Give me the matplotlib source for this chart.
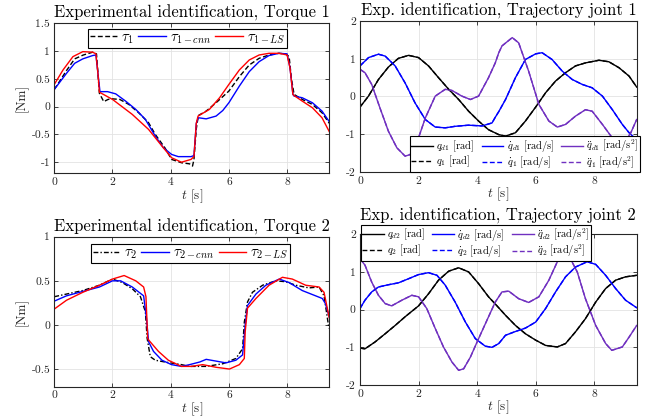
import matplotlib
matplotlib.use("Agg")
import matplotlib.pyplot as plt
from matplotlib.ticker import FuncFormatter

plt.rcParams["font.family"] = ["cmr10", "DejaVu Serif"]
plt.rcParams["mathtext.fontset"] = "cm"
plt.rcParams["axes.unicode_minus"] = False
plt.rcParams["axes.formatter.use_mathtext"] = False

# ---- torque 1 ----
t_tau1 = [0, 0.15, 0.42, 0.7, 1.0, 1.32, 1.45, 1.5, 1.55, 1.7, 1.85, 2.0, 2.25, 2.56,
          2.9, 3.24, 3.47, 3.8, 4.03, 4.37, 4.65, 4.75, 4.8, 4.88, 4.95, 5.22, 5.56,
          6.0, 6.36, 6.7, 7.04, 7.38, 7.72, 7.95, 8.07, 8.15, 8.24, 8.52, 8.87, 9.2, 9.45]
tau1 = [0.31, 0.43, 0.65, 0.86, 0.93, 0.98, 0.95, 0.6, 0.24, 0.09, 0.13, 0.14, 0.13, 0.04,
        -0.11, -0.29, -0.5, -0.74, -0.95, -1.01, -1.03, -1.07, -0.95, -0.4, -0.16, -0.08, 0.07,
        0.28, 0.54, 0.75, 0.87, 0.93, 0.96, 0.95, 0.9, 0.5, 0.22, 0.13, 0.04, -0.11, -0.3]

t_tau1_cnn = [0, 0.42, 0.7, 0.98, 1.32, 1.43, 1.5, 1.57, 1.83, 2.11, 2.45, 2.8, 3.13, 3.47,
              3.75, 4.03, 4.26, 4.7, 4.8, 4.88, 4.95, 5.22, 5.56, 5.79, 6.0, 6.36, 6.7,
              7.04, 7.38, 7.72, 8.0, 8.1, 8.2, 8.24, 8.52, 8.87, 9.2, 9.45]
tau1_cnn = [0.31, 0.6, 0.78, 0.86, 0.92, 0.93, 0.6, 0.27, 0.27, 0.23, 0.1, -0.05, -0.23, -0.53,
            -0.74, -0.86, -0.9, -0.9, -0.88, -0.3, -0.2, -0.22, -0.17, -0.07, 0.07, 0.37, 0.63,
            0.81, 0.92, 0.96, 0.95, 0.7, 0.22, 0.19, 0.16, 0.07, -0.08, -0.27]

t_tau1_ls = [0, 0.3, 0.64, 0.98, 1.32, 1.43, 1.5, 1.55, 2.0, 2.68, 3.24, 3.7, 4.03, 4.37,
             4.7, 4.8, 4.88, 4.94, 5.33, 5.68, 6.0, 6.36, 6.7, 7.04, 7.38, 7.72, 8.0, 8.1,
             8.2, 8.24, 8.52, 8.87, 9.2, 9.45]
tau1_ls = [0.4, 0.66, 0.9, 0.99, 0.98, 0.95, 0.6, 0.26, 0.13, -0.14, -0.41, -0.71, -0.92, -1.0,
           -0.95, -0.9, -0.3, -0.17, -0.05, 0.16, 0.4, 0.66, 0.84, 0.93, 0.96, 0.96, 0.93, 0.7,
           0.22, 0.2, 0.1, -0.02, -0.2, -0.45]

# ---- torque 2 ----
t_tau2 = [0, 0.42, 0.98, 1.55, 2.0, 2.34, 2.68, 2.96, 3.13, 3.19, 3.3, 3.47, 3.8, 4.37, 4.65,
          5.22, 5.79, 6.24, 6.47, 6.53, 6.64, 6.81, 7.16, 7.61, 7.95, 8.3, 8.75, 9.1, 9.27,
          9.42, 9.45]
tau2 = [0.32, 0.35, 0.39, 0.45, 0.52, 0.48, 0.41, 0.32, 0.15, -0.15, -0.36, -0.4, -0.42, -0.45,
        -0.47, -0.47, -0.44, -0.38, -0.27, 0.03, 0.26, 0.37, 0.45, 0.5, 0.49, 0.45, 0.42, 0.43,
        0.33, 0.0, -0.04]

t_tau2_cnn = [0, 0.42, 0.98, 1.55, 2.0, 2.28, 2.68, 3.07, 3.17, 3.24, 3.41, 3.7, 4.03, 4.37,
              4.65, 5.0, 5.22, 5.56, 5.9, 6.24, 6.47, 6.56, 6.64, 6.93, 7.27, 7.73, 8.07,
              8.52, 8.98, 9.21, 9.32, 9.45]
tau2_cnn = [0.27, 0.33, 0.38, 0.43, 0.5, 0.5, 0.43, 0.33, 0.07, -0.19, -0.3, -0.4, -0.45, -0.47,
            -0.45, -0.42, -0.39, -0.41, -0.43, -0.4, -0.34, 0.0, 0.22, 0.35, 0.45, 0.52, 0.48,
            0.39, 0.33, 0.3, 0.24, 0.09]

t_tau2_ls = [0, 0.42, 0.98, 1.55, 2.0, 2.4, 2.8, 3.07, 3.15, 3.21, 3.24, 3.58, 3.92, 4.37,
             4.71, 5.1, 5.56, 6.02, 6.36, 6.53, 6.56, 6.64, 6.93, 7.38, 7.84, 8.18, 8.64,
             9.1, 9.27, 9.45]
tau2_ls = [0.18, 0.28, 0.37, 0.45, 0.52, 0.56, 0.5, 0.43, 0.32, -0.15, -0.17, -0.3, -0.4, -0.47,
           -0.47, -0.45, -0.48, -0.5, -0.45, -0.38, -0.08, 0.19, 0.3, 0.45, 0.54, 0.52, 0.45,
           0.43, 0.37, 0.08]

# ---- trajectory joint 1 ----
t_qd1 = [0, 0.29, 0.63, 0.97, 1.31, 1.66, 2.0, 2.34, 2.68, 3.03, 3.37, 3.71, 4.05, 4.39,
         4.74, 4.97, 5.31, 5.65, 6.0, 6.34, 6.68, 7.02, 7.36, 7.7, 8.16, 8.5, 8.85, 9.19, 9.45]
qd1 = [-0.28, 0.01, 0.45, 0.78, 1.01, 1.09, 1.03, 0.81, 0.5, 0.19, -0.08, -0.39, -0.65, -0.88,
       -1.01, -1.05, -0.96, -0.65, -0.28, 0.1, 0.41, 0.63, 0.81, 0.89, 0.96, 0.92, 0.76, 0.54, 0.25]

t_dqd1 = [0, 0.29, 0.63, 0.86, 1.2, 1.54, 1.88, 2.23, 2.57, 2.91, 3.25, 3.71, 4.17, 4.51,
          4.62, 4.74, 4.97, 5.31, 5.65, 6.0, 6.22, 6.56, 6.91, 7.25, 7.59, 7.93, 8.28, 8.62,
          8.96, 9.19, 9.45]
dqd1 = [0.81, 1.03, 1.12, 1.07, 0.81, 0.36, -0.17, -0.61, -0.81, -0.83, -0.79, -0.76, -0.78, -0.7,
        -0.55, -0.4, -0.08, 0.5, 0.98, 1.13, 1.16, 0.98, 0.67, 0.45, 0.32, 0.23, 0.01, -0.35,
        -0.74, -0.96, -1.15]

t_ddqd1 = [0, 0.17, 0.4, 0.68, 0.97, 1.26, 1.54, 1.71, 1.94, 2.23, 2.57, 2.91, 3.14, 3.48,
           3.77, 4.05, 4.39, 4.62, 4.74, 4.85, 5.2, 5.42, 5.76, 6.11, 6.45, 6.74, 7.02, 7.36,
           7.7, 7.93, 8.28, 8.62, 8.85, 9.02, 9.25, 9.45]
ddqd1 = [0.72, 0.63, 0.32, -0.3, -0.92, -1.36, -1.58, -1.54, -1.23, -0.57, 0.01, 0.19, 0.16, 0.01,
         -0.08, 0.01, 0.5, 0.89, 1.16, 1.34, 1.56, 1.42, 0.67, -0.21, -0.65, -0.81, -0.74, -0.52,
         -0.35, -0.39, -0.74, -1.1, -1.26, -1.23, -0.96, -0.61]

# ---- trajectory joint 2 ----
t_qd2 = [0, 0.17, 0.51, 0.86, 1.2, 1.54, 2.0, 2.34, 2.68, 3.03, 3.37, 3.71, 4.05, 4.39, 4.62,
         4.97, 5.31, 5.65, 6.0, 6.34, 6.74, 7.02, 7.36, 7.7, 8.05, 8.39, 8.73, 9.07, 9.45]
qd2 = [-1.02, -1.04, -0.86, -0.64, -0.42, -0.19, 0.1, 0.42, 0.78, 1.02, 1.11, 1.0, 0.69, 0.34,
       0.15, -0.15, -0.42, -0.64, -0.81, -0.95, -0.99, -0.9, -0.59, -0.24, 0.2, 0.56, 0.78,
       0.87, 0.91]

t_dqd2 = [0, 0.17, 0.4, 0.63, 0.97, 1.31, 1.66, 2.0, 2.34, 2.63, 2.91, 3.25, 3.6, 3.94, 4.28,
          4.51, 4.74, 4.97, 5.31, 5.65, 6.0, 6.34, 6.68, 7.02, 7.36, 7.76, 8.05, 8.39, 8.73,
          9.07, 9.45]
dqd2 = [0.03, 0.25, 0.47, 0.6, 0.66, 0.71, 0.82, 0.93, 0.98, 0.91, 0.65, 0.2, -0.33, -0.77,
        -0.97, -1.0, -0.9, -0.68, -0.58, -0.49, -0.33, 0.03, 0.47, 0.87, 1.13, 1.27, 1.2, 0.91,
        0.56, 0.25, 0.05]

t_ddqd2 = [0, 0.17, 0.4, 0.63, 0.86, 1.08, 1.43, 1.77, 2.0, 2.28, 2.57, 2.85, 3.14, 3.37, 3.54,
           3.77, 4.05, 4.39, 4.62, 4.85, 5.08, 5.42, 5.76, 6.11, 6.45, 6.74, 6.97, 7.14, 7.42,
           7.7, 8.05, 8.39, 8.6, 8.96, 9.19, 9.45]
ddqd2 = [1.35, 1.18, 0.73, 0.38, 0.16, 0.1, 0.25, 0.38, 0.34, 0.03, -0.5, -0.99, -1.39, -1.61,
         -1.57, -1.26, -0.77, -0.19, 0.2, 0.47, 0.49, 0.29, 0.19, 0.34, 0.78, 1.27, 1.46, 1.42,
         1.0, 0.29, -0.42, -0.9, -1.08, -0.99, -0.73, -0.42]

# measured joint signals track the desired ones almost exactly
q1, dq1, ddq1 = qd1, dqd1, ddqd1
q2, dq2, ddq2 = qd2, dqd2, ddqd2

PURPLE = "#7030c0"
AX_COLOR = "#262626"
T_MAX = 9.45


def fmt(v, pos):
    return f"{v:g}"


def style_axes(ax, ylim, yticks):
    ax.set_xlim(0, T_MAX)
    ax.set_ylim(*ylim)
    ax.set_xticks([0, 2, 4, 6, 8])
    ax.set_yticks(yticks)
    ax.yaxis.set_major_formatter(FuncFormatter(fmt))
    ax.xaxis.set_major_formatter(FuncFormatter(fmt))
    ax.grid(True, color="#e3e3e3", linewidth=0.6)
    ax.set_axisbelow(True)
    ax.tick_params(direction="in", top=True, right=True, length=3, width=0.6,
                   labelsize=8.3, colors=AX_COLOR, pad=3)
    for sp in ax.spines.values():
        sp.set_color(AX_COLOR)
        sp.set_linewidth(0.8)
    ax.set_xlabel(r"$t$ [s]", fontsize=9.5, color=AX_COLOR, labelpad=0)


def box_legend(ax, handles, labels, fontsize, **kw):
    leg = ax.legend(handles, labels, fontsize=fontsize, fancybox=False, framealpha=1,
                    edgecolor="black", borderaxespad=0, **kw)
    leg.get_frame().set_linewidth(0.8)
    return leg


fig = plt.figure(figsize=(6.51, 4.2), dpi=100)
ax1 = fig.add_axes([0.0834, 0.5874, 0.4224, 0.3571])
ax2 = fig.add_axes([0.553, 0.5905, 0.425, 0.3595])
ax3 = fig.add_axes([0.0834, 0.0793, 0.4224, 0.3571])
ax4 = fig.add_axes([0.553, 0.0833, 0.425, 0.359])

lw = 1.0

# torque 1
h1, = ax1.plot(t_tau1, tau1, color="black", linestyle="--", dashes=(3.5, 1.8), lw=lw)
h2, = ax1.plot(t_tau1_cnn, tau1_cnn, color="blue", lw=lw)
h3, = ax1.plot(t_tau1_ls, tau1_ls, color="red", lw=lw)
style_axes(ax1, (-1.2, 1.5), [-1, -0.5, 0, 0.5, 1, 1.5])
ax1.set_ylabel("[Nm]", fontsize=9.5, color=AX_COLOR, labelpad=2)
ax1.set_title("Experimental identification, Torque 1", fontsize=12, pad=4)
box_legend(ax1, [h1, h2, h3], [r"$\tau_1$", r"$\tau_{1-cnn}$", r"$\tau_{1-LS}$"], 10.5,
           loc="upper left", bbox_to_anchor=(0.123, 0.962), ncol=3, handlelength=1.9,
           columnspacing=0.3, handletextpad=0.25, borderpad=0.12)

# torque 2
g1, = ax3.plot(t_tau2, tau2, color="black", linestyle="-.", dashes=(3.5, 1.5, 1, 1.5), lw=lw)
g2, = ax3.plot(t_tau2_cnn, tau2_cnn, color="blue", lw=lw)
g3, = ax3.plot(t_tau2_ls, tau2_ls, color="red", lw=lw)
style_axes(ax3, (-0.7, 1.0), [-0.5, 0, 0.5, 1])
ax3.set_ylabel("[Nm]", fontsize=9.5, color=AX_COLOR, labelpad=2)
ax3.set_title("Experimental identification, Torque 2", fontsize=12, pad=4)
box_legend(ax3, [g1, g2, g3], [r"$\tau_2$", r"$\tau_{2-cnn}$", r"$\tau_{2-LS}$"], 10.5,
           loc="upper left", bbox_to_anchor=(0.133, 0.949), ncol=3, handlelength=1.9,
           columnspacing=0.3, handletextpad=0.25, borderpad=0.12)

# trajectories
for ax, j, (tq, q, tdq, dq, tddq, ddq), (mq, mdq, mddq), title in [
    (ax2, 1, (t_qd1, qd1, t_dqd1, dqd1, t_ddqd1, ddqd1), (q1, dq1, ddq1),
     "Exp. identification, Trajectory joint 1"),
    (ax4, 2, (t_qd2, qd2, t_dqd2, dqd2, t_ddqd2, ddqd2), (q2, dq2, ddq2),
     "Exp. identification, Trajectory joint 2"),
]:
    a, = ax.plot(tq, q, color="black", lw=lw)
    b, = ax.plot(tdq, dq, color="blue", lw=lw)
    c, = ax.plot(tddq, ddq, color=PURPLE, lw=lw)
    a2, = ax.plot(tq, mq, color="black", linestyle="--", dashes=(3.5, 1.8), lw=lw)
    b2, = ax.plot(tdq, mdq, color="blue", linestyle="--", dashes=(3.5, 1.8), lw=lw)
    c2, = ax.plot(tddq, mddq, color=PURPLE, linestyle="--", dashes=(3.5, 1.8), lw=lw)
    style_axes(ax, (-2, 2), [-2, -1, 0, 1, 2])
    labels = [rf"$q_{{d{j}}}$ [rad]", rf"$q_{j}$ [rad]",
              rf"$\dot{{q}}_{{d{j}}}$ [rad/s]", rf"$\dot{{q}}_{j}$ [rad/s]",
              rf"$\ddot{{q}}_{{d{j}}}$ [rad/s$^2$]", rf"$\ddot{{q}}_{j}$ [rad/s$^2$]"]
    if j == 1:
        ax.set_title(title, fontsize=12, pad=4)
        pos = dict(loc="lower right", bbox_to_anchor=(1.012, 0.0))
    else:
        # legend pokes out above the frame, so the title sits higher
        ax.set_title(title, fontsize=12, pad=10)
        pos = dict(loc="upper left", bbox_to_anchor=(0.004, 1.062))
    box_legend(ax, [a, a2, b, b2, c, c2], labels, 7.5, ncol=3, handlelength=2.1,
               columnspacing=0.7, handletextpad=0.3, borderpad=0.12, labelspacing=0.0,
               **pos)

fig.savefig("out.png", dpi=100)
